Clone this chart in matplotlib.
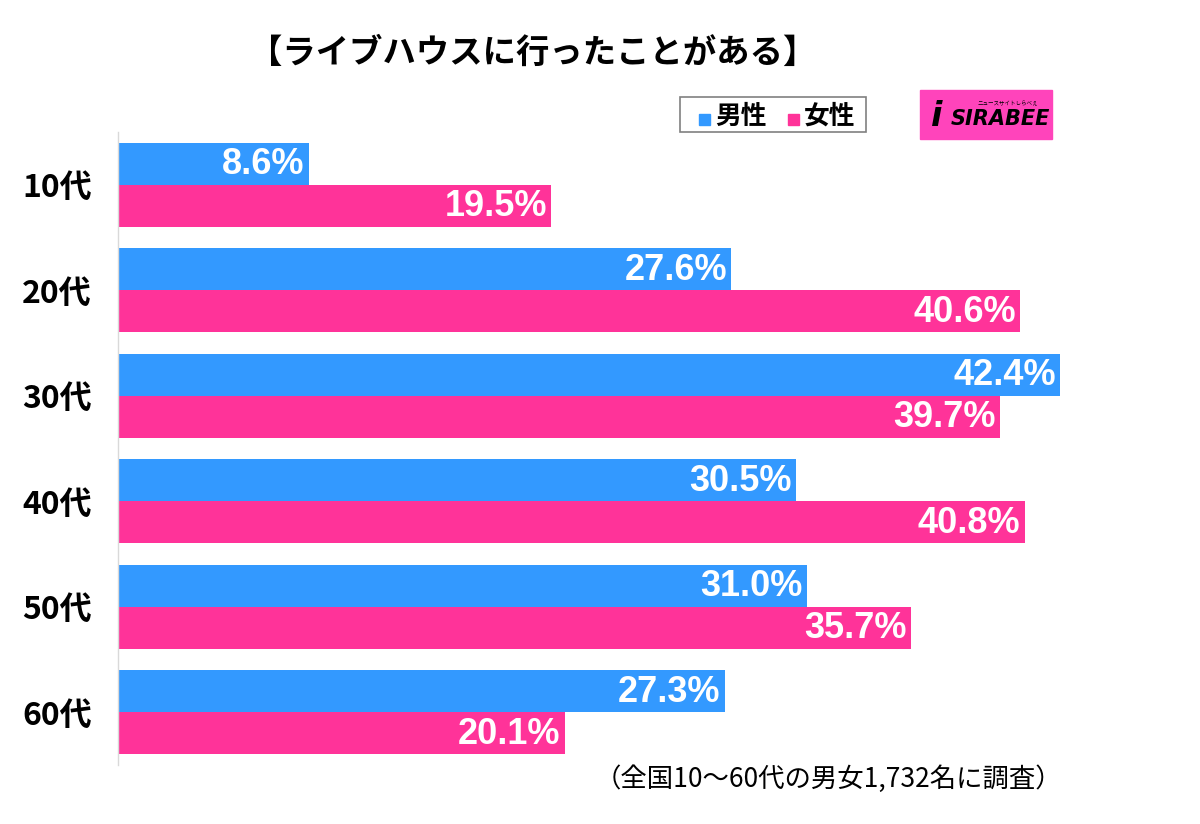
import matplotlib
matplotlib.use("Agg")
import matplotlib.pyplot as plt
from matplotlib.patches import Rectangle
import numpy as np

plt.rcParams['font.family'] = ['Noto Sans CJK JP', 'DejaVu Sans']

categories = ["10代", "20代", "30代", "40代", "50代", "60代"]
male = [8.6, 27.6, 42.4, 30.5, 31.0, 27.3]
female = [19.5, 40.6, 39.7, 40.8, 35.7, 20.1]
series_names = ["男性", "女性"]
title = "【ライブハウスに行ったことがある】"
footnote = "（全国10～60代の男女1,732名に調査）"

blue = "#3399FF"
pink = "#FF3399"

W, H = 1200, 824
fig = plt.figure(figsize=(W / 100, H / 100), dpi=100)
ax = fig.add_axes([118 / W, 1 - 765 / H, 1000 / W, (765 - 132) / H])

y = np.arange(len(categories))
bh = 0.4
ax.barh(y - bh / 2, male, height=bh, color=blue)
ax.barh(y + bh / 2, female, height=bh, color=pink)
ax.set_xlim(0, 45)
ax.set_ylim(len(categories) - 0.5, -0.5)

for yi, v in zip(y, male):
    ax.text(v - 0.2, yi - bh / 2 + 0.01, f"{v:.1f}%", ha="right", va="center",
            color="white", fontsize=26, fontweight="bold", family="Liberation Sans")
for yi, v in zip(y, female):
    ax.text(v - 0.2, yi + bh / 2 + 0.01, f"{v:.1f}%", ha="right", va="center",
            color="white", fontsize=26, fontweight="bold", family="Liberation Sans")

ax.set_yticks(y)
ax.set_yticklabels(categories, fontsize=23, fontweight="bold")
ax.tick_params(axis="y", length=0, pad=19)
ax.set_xticks([])
for s in ["top", "right", "bottom"]:
    ax.spines[s].set_visible(False)
ax.spines["left"].set_color("#D9D9D9")
ax.spines["left"].set_linewidth(1)

# title
fig.text(533 / W, 1 - 53 / H, title, ha="center", va="center",
         fontsize=24, fontweight="bold")

# legend box
fig.patches.append(Rectangle((680 / W, 1 - 132 / H), 186 / W, 35 / H,
                             transform=fig.transFigure, fill=False,
                             edgecolor="#808080", linewidth=1.2))
fig.patches.append(Rectangle((699 / W, 1 - 125 / H), 11 / W, 11 / H,
                             transform=fig.transFigure, color=blue))
fig.text(715 / W, 1 - 116 / H, series_names[0], ha="left", va="center",
         fontsize=18.5, fontweight="bold")
fig.patches.append(Rectangle((788 / W, 1 - 125 / H), 11 / W, 11 / H,
                             transform=fig.transFigure, color=pink))
fig.text(804 / W, 1 - 116 / H, series_names[1], ha="left", va="center",
         fontsize=18.5, fontweight="bold")

# logo
fig.patches.append(Rectangle((920 / W, 1 - 139 / H), 132 / W, 49 / H,
                             transform=fig.transFigure, color="#FF44BB"))
fig.text(1000 / W, 1 - 119 / H, "SIRABEE", ha="center", va="center",
         fontsize=15, fontweight="bold", style="italic", family="DejaVu Sans")
fig.text(1008 / W, 1 - 104 / H, "ニュースサイトしらべぇ", ha="center", va="center",
         fontsize=4)
fig.text(937 / W, 1 - 117 / H, "i", ha="center", va="center",
         fontsize=24, fontweight="bold", style="italic", family="DejaVu Sans")

# footnote
fig.text(1062 / W, 1 - 779 / H, footnote, ha="right", va="center",
         fontsize=19)

fig.savefig("out.png", dpi=100, facecolor="white")
